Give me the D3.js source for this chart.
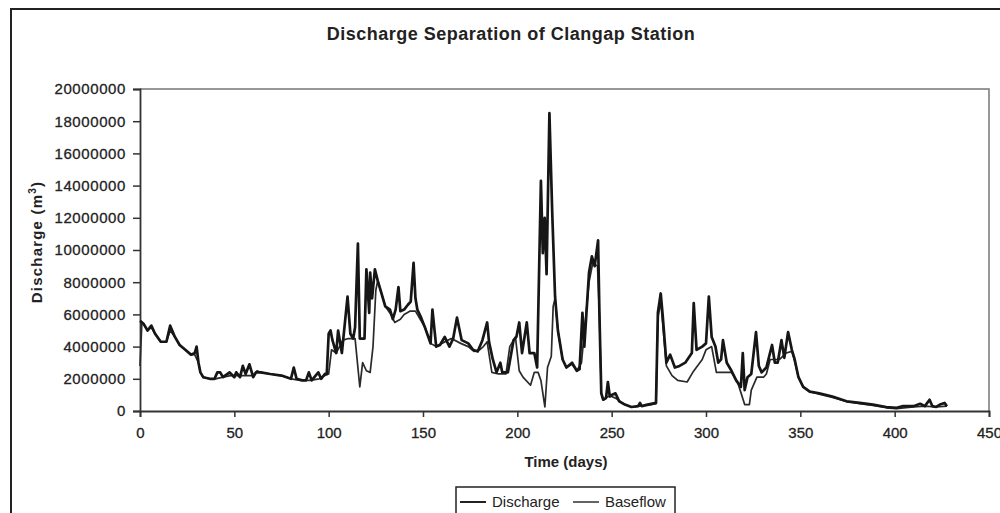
<!DOCTYPE html>
<html>
<head>
<meta charset="utf-8">
<script src="https://cdn.jsdelivr.net/npm/d3@7"></script>
<style>
  body { margin: 0; background: #fff; }
  svg { display: block; font-family: 'Liberation Sans', Arial, sans-serif; }
</style>
</head>
<body>
<svg width="1000" height="513"></svg>
<script>
// [day, discharge in millions of m3]
var discharge = [
  [0,5.6],[2,5.4],[4,5.0],[6,5.3],[8,4.8],[11,4.3],[14,4.3],[16,5.3],[18.5,4.6],[21,4.1],
  [24,3.8],[27,3.5],[29,3.6],[30,4.0],[31,3.0],[32,2.4],[33.5,2.1],[37,2.0],[39.5,2.0],[41,2.4],
  [42.5,2.4],[44,2.1],[47.5,2.4],[50,2.1],[51,2.4],[53,2.1],[54.5,2.8],[56,2.3],[58,2.9],[60,2.1],
  [61.5,2.4],[64,2.4],[69,2.3],[75,2.2],[80,2.0],[81.5,2.7],[83,2.0],[86,1.9],[88,1.9],[89.5,2.4],
  [91,1.9],[94.5,2.4],[96,2.0],[98,2.3],[99,2.3],[100,4.8],[101,5.0],[102,4.4],[104,3.6],[105,5.0],
  [107,3.6],[110,7.1],[111.5,4.8],[113,4.5],[114,5.2],[115.5,10.4],[116.5,4.5],[119,4.5],[120,8.8],[121.5,6.1],
  [122,8.6],[123,7.0],[124.5,8.8],[126,8.1],[128,7.3],[130,6.5],[132.5,6.3],[134,5.7],[135.5,6.3],[137,7.7],
  [138,6.2],[140,6.3],[142,6.6],[143.5,6.8],[145,9.2],[146,7.0],[147,6.3],[149,5.8],[151,5.2],[154,4.2],
  [155,6.3],[157,4.0],[159,4.1],[161.5,4.6],[164,4.0],[166,4.5],[168,5.8],[170.5,4.4],[174,4.2],[176.5,3.8],
  [179,3.7],[181.5,4.4],[184,5.5],[185,4.3],[187,3.2],[189,2.4],[191,3.0],[192,2.4],[195,2.4],[198,4.4],
  [199.5,4.6],[201,5.5],[202.5,3.6],[205,5.5],[206.5,3.6],[209,3.6],[210.5,2.7],[212.5,14.3],[213.5,9.8],[214.5,12.0],
  [215.5,8.5],[217,18.5],[218.5,12.3],[220,7.1],[221.5,5.0],[224,3.2],[226,2.7],[229,3.0],[231.5,2.5],[233,2.6],
  [234.5,6.1],[235.5,4.0],[238,8.6],[239.5,9.6],[241,9.0],[242.8,10.6],[243.5,6.1],[244.5,1.1],[245.5,0.7],[247,0.8],
  [248,1.8],[249,0.9],[250,1.0],[252,1.1],[254,0.6],[257,0.4],[260.5,0.25],[264,0.3],[265,0.5],[266,0.3],
  [269,0.4],[273.5,0.5],[274.5,6.1],[276,7.3],[277,6.0],[279,3.0],[281,3.5],[283.5,2.7],[286,2.8],[289,3.0],
  [292.5,3.6],[293.5,6.7],[295,3.8],[298,4.0],[300,4.2],[301.5,7.1],[303,4.6],[305,4.0],[306.5,3.0],[308,3.2],
  [309,4.4],[311,3.0],[313.5,2.5],[316,1.9],[318.5,1.5],[319.5,3.6],[320.5,1.3],[322,2.1],[324,2.3],[326.5,4.9],
  [328,2.8],[329.5,2.4],[332,2.7],[335,4.1],[336.5,3.0],[338,3.0],[340,4.4],[341.5,3.3],[343.5,4.9],[345.5,3.8],
  [347,3.2],[349,2.1],[351.5,1.5],[355,1.2],[360,1.1],[367,0.9],[374.5,0.6],[381.5,0.5],[388.5,0.4],[395.5,0.25],
  [401,0.2],[404.5,0.3],[410,0.3],[413.5,0.45],[416,0.3],[418.5,0.7],[420,0.3],[422,0.25],[424,0.4],[426.5,0.5],
  [427.7,0.3]
];

// [day, baseflow in millions of m3]
var baseflow = [
  [0,2.8],[1,5.5],[2,5.4],[4,5.0],[6,5.2],[8,4.8],[11,4.3],[14,4.3],[16,5.0],[18.5,4.6],
  [21,4.1],[24,3.8],[27,3.5],[29,3.5],[31,3.0],[32,2.4],[33.5,2.1],[37,2.0],[40,2.0],[44,2.1],
  [48,2.2],[52,2.2],[56,2.2],[60,2.2],[62,2.5],[64,2.4],[69,2.3],[75,2.2],[80,2.0],[85,1.9],
  [90,1.9],[95,2.0],[98,2.2],[100,2.3],[101.5,3.8],[104,3.6],[107.5,4.4],[110.5,4.5],[114,4.5],[116.5,1.5],
  [118,3.0],[120,2.5],[122,2.4],[123.5,4.0],[125,7.5],[126,8.1],[128,7.3],[130,6.5],[133,6.0],[135,5.5],
  [138,5.7],[140,6.0],[143,6.2],[146,6.2],[148,5.8],[151,5.2],[154,4.2],[157,4.0],[160,4.2],[165,4.5],
  [170,4.2],[174,4.0],[177,3.7],[180,3.8],[182,4.0],[184,4.3],[186.5,2.4],[190,2.3],[194,2.3],[196,4.0],
  [199,4.6],[201,2.5],[203,2.1],[207,1.6],[209,2.4],[211,2.4],[212.5,1.9],[214.6,0.25],[216,2.7],[218,3.4],
  [219,6.5],[220,7.0],[221.5,5.0],[224,3.2],[226,2.7],[229,2.9],[231.5,2.5],[234,3.0],[236,5.5],[238,8.0],
  [240,9.2],[242.5,9.0],[243.5,6.0],[244.5,1.1],[245.5,0.7],[248,0.9],[250,0.9],[252,0.8],[257,0.4],[260.5,0.25],
  [265,0.3],[269,0.35],[273.5,0.45],[274.5,5.8],[276,6.8],[277,5.5],[279,2.8],[282,2.2],[285,1.9],[290,1.8],
  [293,2.4],[298,3.2],[300,3.8],[303,4.0],[305.5,2.4],[310,2.4],[313.5,2.4],[317,1.7],[320.5,0.4],[323,0.4],
  [324,1.3],[327,2.1],[330.5,2.1],[332,2.3],[334,3.2],[339,3.2],[342.5,3.6],[345.5,3.7],[347,3.1],[349,2.1],
  [351.5,1.5],[355,1.2],[360,1.05],[367,0.85],[374.5,0.6],[381.5,0.45],[388.5,0.35],[395.5,0.2],[401,0.15],[410,0.25],
  [416,0.3],[422,0.25],[427.7,0.3]
];

var xTicks = [0, 50, 100, 150, 200, 250, 300, 350, 400, 450];
var yTicks = [0, 2000000, 4000000, 6000000, 8000000, 10000000, 12000000, 14000000, 16000000, 18000000, 20000000];
var seriesNames = ['Discharge', 'Baseflow'];

var svg = d3.select('svg');

var plotLeft = 140, plotRight = 989, plotTop = 89, plotBottom = 411;

var x = d3.scaleLinear().domain([0, 450]).range([plotLeft, plotRight]);
var y = d3.scaleLinear().domain([0, 20000000]).range([plotBottom, plotTop]);

// outer frame of the scanned figure
svg.append('rect')
  .attr('x', 11)
  .attr('y', 9)
  .attr('width', 1010)
  .attr('height', 600)
  .attr('fill', 'none')
  .attr('stroke', '#222')
  .attr('stroke-width', 2);

// plot border (top + right)
svg.append('path')
  .attr('d', 'M' + plotLeft + ',' + plotTop + 'H' + plotRight + 'V' + plotBottom)
  .attr('fill', 'none')
  .attr('stroke', '#777')
  .attr('stroke-width', 1.5);

svg.append('text')
  .attr('x', 511)
  .attr('y', 40)
  .attr('text-anchor', 'middle')
  .attr('font-size', '18px')
  .attr('font-weight', 'bold')
  .attr('letter-spacing', '0.5px')
  .attr('fill', '#222')
  .text('Discharge Separation of Clangap Station');

var yAxis = svg.append('g')
  .attr('transform', 'translate(' + plotLeft + ',0)')
  .call(d3.axisLeft(y).tickValues(yTicks).tickSize(7).tickPadding(7).tickFormat(d3.format('d')));

var xAxis = svg.append('g')
  .attr('transform', 'translate(0,' + plotBottom + ')')
  .call(d3.axisBottom(x).tickValues(xTicks).tickSize(6).tickPadding(10).tickFormat(d3.format('d')));

[xAxis, yAxis].forEach(function(ax) {
  ax.select('.domain').attr('stroke', '#333').attr('stroke-width', 1.8);
  ax.selectAll('.tick line').attr('stroke', '#333').attr('stroke-width', 1.5);
  ax.selectAll('text')
    .attr('font-family', "'Liberation Sans', Arial, sans-serif")
    .attr('font-size', '15px')
    .attr('fill', '#222')
    .attr('stroke', '#222')
    .attr('stroke-width', 0.3);
});
yAxis.selectAll('text').attr('letter-spacing', '0.6px');

svg.append('text')
  .attr('transform', 'translate(42,242) rotate(-90)')
  .attr('text-anchor', 'middle')
  .attr('font-size', '15px')
  .attr('font-weight', 'bold')
  .attr('letter-spacing', '1.2px')
  .attr('fill', '#222')
  .text('Discharge (m')
  .append('tspan')
  .attr('dy', -6)
  .attr('font-size', '10px')
  .text('3')
  .select(function() { return this.parentNode; })
  .append('tspan')
  .attr('dy', 6)
  .text(')');

svg.append('text')
  .attr('x', 566)
  .attr('y', 467)
  .attr('text-anchor', 'middle')
  .attr('font-size', '15px')
  .attr('font-weight', 'bold')
  .attr('fill', '#222')
  .text('Time (days)');

var line = d3.line()
  .x(function(d) { return x(d[0]); })
  .y(function(d) { return y(d[1] * 1e6); });

svg.append('path')
  .datum(baseflow)
  .attr('d', line)
  .attr('fill', 'none')
  .attr('stroke', '#2a2a2a')
  .attr('stroke-width', 1.7)
  .attr('stroke-linejoin', 'round');

svg.append('path')
  .datum(discharge)
  .attr('d', line)
  .attr('fill', 'none')
  .attr('stroke', '#161616')
  .attr('stroke-width', 2.7)
  .attr('stroke-linejoin', 'round');

// legend
var legend = svg.append('g').attr('transform', 'translate(456,487)');
legend.append('rect')
  .attr('width', 219)
  .attr('height', 40)
  .attr('fill', '#fff')
  .attr('stroke', '#222')
  .attr('stroke-width', 1.5);

var item = legend.selectAll('.legend-item')
  .data(seriesNames)
  .enter()
  .append('g')
  .attr('class', 'legend-item')
  .attr('transform', function(d, i) {
    return 'translate(' + (4 + i * 113) + ',15)';
  });
item.append('line')
  .attr('x1', 0)
  .attr('x2', 26)
  .attr('stroke', '#222')
  .attr('stroke-width', function(d, i) { return i === 0 ? 2 : 1.4; });
item.append('text')
  .attr('x', 32)
  .attr('y', 5)
  .attr('font-size', '15px')
  .attr('fill', '#222')
  .text(function(d) { return d; });
</script>
</body>
</html>
